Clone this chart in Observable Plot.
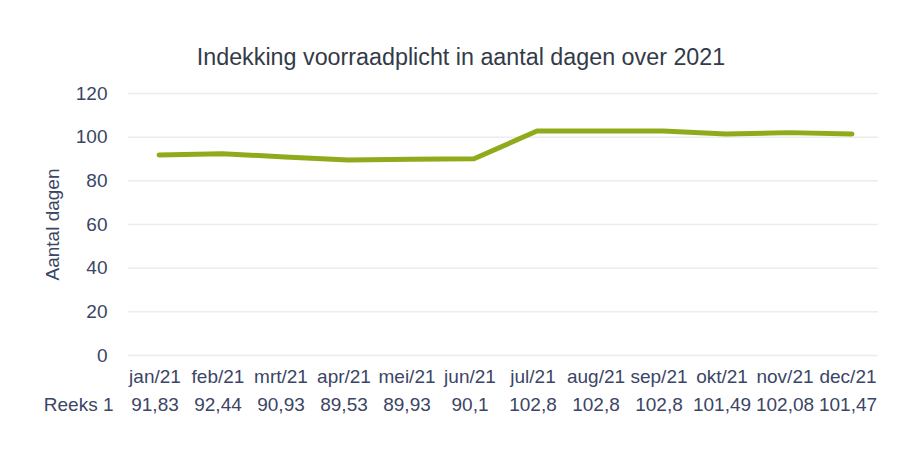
<!DOCTYPE html>
<html>
<head>
<meta charset="utf-8">
<script src="https://cdn.jsdelivr.net/npm/d3@7"></script>
<script src="https://cdn.jsdelivr.net/npm/@observablehq/plot@0.6"></script>
<style>
  html, body { margin: 0; padding: 0; background: #ffffff; }
  #chart { width: 900px; height: 450px; }
</style>
</head>
<body>
<div id="chart"></div>
<script>
const title = "Indekking voorraadplicht in aantal dagen over 2021";
const months = ["jan/21","feb/21","mrt/21","apr/21","mei/21","jun/21","jul/21","aug/21","sep/21","okt/21","nov/21","dec/21"];
const values = [91.83, 92.44, 90.93, 89.53, 89.93, 90.1, 102.8, 102.8, 102.8, 101.49, 102.08, 101.47];
const yTicks = [0, 20, 40, 60, 80, 100, 120];
const seriesName = "Reeks 1";
const yLabel = "Aantal dagen";

const data = months.map((m, i) => ({month: m, value: values[i]}));
const fmt = v => String(v).replace(".", ",");
const textColor = "#3b4565";
const font = "Liberation Sans, Arial, sans-serif";

const chart = Plot.plot({
  width: 900,
  height: 450,
  marginTop: 93,
  marginBottom: 95,
  marginLeft: 123,
  marginRight: 14,
  style: {fontFamily: font, background: "#ffffff", color: textColor},
  x: {type: "band", domain: months, padding: 0, axis: null},
  y: {domain: [0, 120], ticks: yTicks, tickSize: 0, tickPadding: 16, label: null},
  marks: [
    Plot.gridY(yTicks, {stroke: "#ececec", strokeOpacity: 1, strokeWidth: 1.5, insetLeft: 5, insetRight: 8}),
    Plot.axisY(yTicks, {tickSize: 0, tickPadding: 16, fontSize: 19, fill: textColor, label: null}),
    Plot.line(data, {x: "month", y: "value", stroke: "#8fab1c", strokeWidth: 5, strokeLinejoin: "round", strokeLinecap: "round"}),
    Plot.text([yLabel], {frameAnchor: "left", textAnchor: "middle", dx: -71, rotate: -90, fontSize: 19, fill: textColor}),
    Plot.text([title], {frameAnchor: "top", dx: -44, dy: -45, fontSize: 23.3, fill: "#333a48"}),
    Plot.text(months, {x: d => d, frameAnchor: "bottom", dx: -4, dy: 27, fontSize: 19, fill: textColor}),
    Plot.text(values, {x: (d, i) => months[i], text: d => fmt(d), frameAnchor: "bottom", dx: -4, dy: 55, fontSize: 19, fill: textColor}),
    Plot.text([seriesName], {frameAnchor: "bottom-left", dx: -10, dy: 55, textAnchor: "end", fontSize: 19, fill: textColor})
  ]
});
document.getElementById("chart").appendChild(chart);
</script>
</body>
</html>
